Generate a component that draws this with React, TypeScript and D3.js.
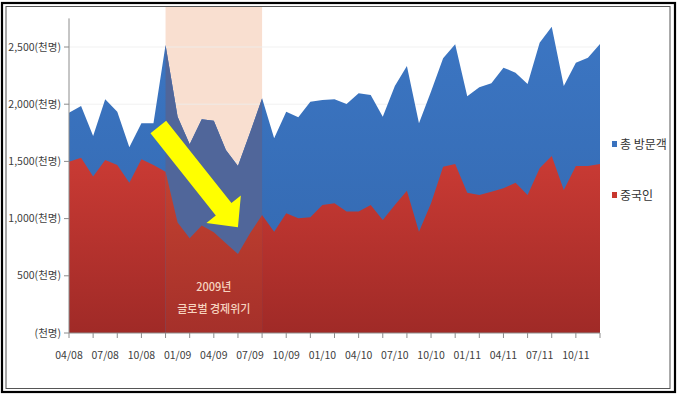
import React from 'react';
import * as d3 from 'd3';

// monthly visitors (thousand persons), 04/08 .. 12/11
const months = [
  '04/08', '05/08', '06/08', '07/08', '08/08', '09/08', '10/08', '11/08', '12/08',
  '01/09', '02/09', '03/09', '04/09', '05/09', '06/09', '07/09', '08/09', '09/09', '10/09', '11/09', '12/09',
  '01/10', '02/10', '03/10', '04/10', '05/10', '06/10', '07/10', '08/10', '09/10', '10/10', '11/10', '12/10',
  '01/11', '02/11', '03/11', '04/11', '05/11', '06/11', '07/11', '08/11', '09/11', '10/11', '11/11', '12/11',
];
const totalVisitors = [
  1926, 1984, 1722, 2043, 1935, 1623, 1833, 1833, 2517,
  1890, 1650, 1868, 1856, 1600, 1460, 1750, 2052, 1702, 1935, 1885, 2022,
  2037, 2043, 2002, 2095, 2080, 1891, 2159, 2334, 1833, 2110, 2401, 2523,
  2070, 2148, 2183, 2319, 2276, 2177, 2538, 2678, 2159, 2363, 2407, 2526,
];
const chinaVisitors = [
  1498, 1533, 1367, 1512, 1469, 1314, 1518, 1469, 1410,
  965, 828, 940, 880, 784, 691, 871, 1031, 886, 1046, 1003, 1011,
  1119, 1134, 1061, 1061, 1119, 988, 1119, 1244, 886, 1134, 1454, 1477,
  1227, 1206, 1235, 1265, 1314, 1206, 1440, 1547, 1250, 1460, 1460, 1477,
];
const xTickLabels = [
  '04/08', '07/08', '10/08', '01/09', '04/09', '07/09', '10/09', '01/10',
  '04/10', '07/10', '10/10', '01/11', '04/11', '07/11', '10/11',
];
const yTicks = [0, 500, 1000, 1500, 2000, 2500];
const yTickLabels = ['(천명)', '500(천명)', '1,000(천명)', '1,500(천명)', '2,000(천명)', '2,500(천명)'];
const seriesNames = ['총 방문객', '중국인'];
const crisisMonths = ['12/08', '08/09'];
const crisisLabels = ['2009년', '글로벌 경제위기'];

const W = 678;
const H = 395;
const FONT = "'Noto Sans CJK KR', 'Noto Sans', sans-serif";

export default function App() {
  const x = d3.scaleLinear().domain([0, months.length - 1]).range([69, 600]);
  const y = d3.scaleLinear().domain([0, 2500]).range([333, 47]);

  const area = (vals: number[]) =>
    d3.area<number>()
      .x((d, i) => x(i))
      .y0(y(0))
      .y1((d) => y(d))(vals) as string;

  const bx0 = x(months.indexOf(crisisMonths[0]));
  const bx1 = x(months.indexOf(crisisMonths[1]));
  const bandCx = (bx0 + bx1) / 2;

  // yellow arrow (annotation), endpoints in data units
  const p0 = [x(7.4), y(1800)];
  const p1 = [x(14), y(925)];
  const dx = p1[0] - p0[0];
  const dy = p1[1] - p0[1];
  const len = Math.hypot(dx, dy);
  const ux = dx / len;
  const uy = dy / len;
  const px = -uy;
  const py = ux;
  const sw = 10; // half shaft width
  const hw = 22; // half head width
  const hl = 23; // head length
  const bx = p1[0] - ux * hl;
  const by = p1[1] - uy * hl;
  const arrowPts = [
    [p0[0] + px * sw, p0[1] + py * sw],
    [bx + px * sw, by + py * sw],
    [bx + px * hw, by + py * hw],
    [p1[0], p1[1]],
    [bx - px * hw, by - py * hw],
    [bx - px * sw, by - py * sw],
    [p0[0] - px * sw, p0[1] - py * sw],
  ];
  const arrowPath = 'M' + arrowPts.map((p) => p.join(',')).join('L') + 'Z';

  const colors = ['#3A72BE', '#C8372F'];

  return (
    <svg width={W} height={H} style={{ position: 'absolute', left: 0, top: 0, background: '#fff' }}>
      <defs>
        <linearGradient id="redGrad" gradientUnits="userSpaceOnUse" x1="0" y1={130} x2="0" y2={333}>
          <stop offset="0" stopColor="#D03D36" />
          <stop offset="1" stopColor="#A02A27" />
        </linearGradient>
        <linearGradient id="redBandGrad" gradientUnits="userSpaceOnUse" x1="0" y1={130} x2="0" y2={333}>
          <stop offset="0" stopColor="#CB4632" />
          <stop offset="1" stopColor="#A5302A" />
        </linearGradient>
        <linearGradient id="blueGrad" gradientUnits="userSpaceOnUse" x1="0" y1={20} x2="0" y2={333}>
          <stop offset="0" stopColor="#3C76C3" />
          <stop offset="1" stopColor="#3267AE" />
        </linearGradient>
        <clipPath id="bandClip">
          <rect x={bx0} y={0} width={bx1 - bx0} height={H} />
        </clipPath>
      </defs>
      <rect x={2} y={3} width={673} height={389} fill="#fff" stroke="#000" strokeWidth={2.2} />
      <rect x={6} y={6.5} width={664} height={382} fill="none" stroke="#555" strokeWidth={1} />

      {/* crisis band background */}
      <rect x={bx0} y={7} width={bx1 - bx0} height={y(0) - 7} fill="#F9DFD0" />

      {/* grid */}
      {yTicks.slice(1).map((t) => (
        <line key={t} x1={x(0)} x2={x(months.length - 1)} y1={y(t)} y2={y(t)} stroke="#EDEDED" strokeOpacity={0.8} />
      ))}

      <path d={area(totalVisitors)} fill="url(#blueGrad)" />
      <path d={area(chinaVisitors)} fill="url(#redGrad)" />

      {/* areas inside the crisis band, tinted */}
      <g clipPath="url(#bandClip)">
        <path d={area(totalVisitors)} fill="#50669A" />
        <path d={area(chinaVisitors)} fill="url(#redBandGrad)" />
      </g>

      {/* axes */}
      <line x1={x(0)} x2={x(0)} y1={y(2750)} y2={y(0)} stroke="#8C8C8C" />
      <line x1={x(0)} x2={x(months.length - 1)} y1={y(0)} y2={y(0)} stroke="#8C8C8C" />
      {yTicks.map((t, i) => (
        <g key={t}>
          <line x1={x(0) - 5} x2={x(0)} y1={y(t)} y2={y(t)} stroke="#8C8C8C" />
          <text x={61} y={y(t)} dy="0.35em" textAnchor="end" fontSize={10.5} fontFamily={FONT} fill="#404040">
            {yTickLabels[i]}
          </text>
        </g>
      ))}
      {d3.range(0, months.length, 2).map((i) => (
        <line key={i} x1={x(i)} x2={x(i)} y1={y(0)} y2={y(0) + 5} stroke="#8C8C8C" />
      ))}
      {xTickLabels.map((m) => (
        <text key={m} x={x(months.indexOf(m))} y={359} textAnchor="middle" fontSize={10.5} fontFamily={FONT} fill="#404040">
          {m}
        </text>
      ))}

      <path d={arrowPath} fill="#FFFF00" />

      {crisisLabels.map((t, i) => (
        <text key={t} x={bandCx} y={i === 0 ? y(370) : y(175)} textAnchor="middle" fontSize={11}
          fontWeight={500} fontFamily={FONT} fill="#F7D4C0">
          {t}
        </text>
      ))}

      {/* legend */}
      {seriesNames.map((n, i) => (
        <g key={n} transform={`translate(612, ${i === 0 ? 144 : 195})`}>
          <rect x={0} y={-3} width={5} height={6} fill={colors[i]} />
          <text x={8} y={0} dy="0.38em" fontSize={12} fontFamily={FONT} fill="#333">
            {n}
          </text>
        </g>
      ))}
    </svg>
  );
}
